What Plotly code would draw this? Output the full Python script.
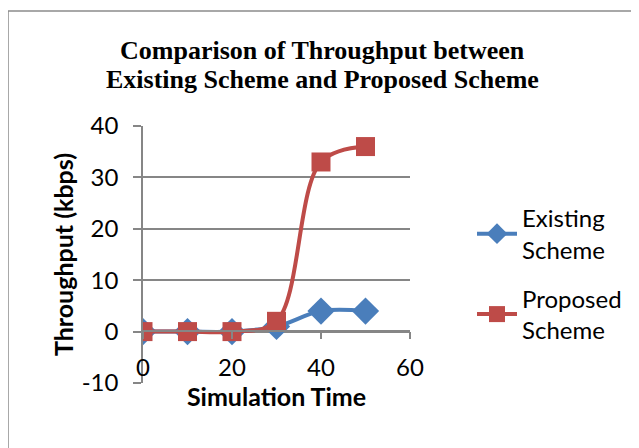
import plotly.graph_objects as go

sim_time = [0, 10, 20, 30, 40, 50]
existing = [0, 0, 0, 1, 4, 4]
proposed = [0, 0, 0, 2, 33, 36]
x_ticks = [0, 20, 40, 60]
y_ticks = [-10, 0, 10, 20, 30, 40]
title_lines = ["Comparison of Throughput between", "Existing Scheme and Proposed Scheme"]

W, H = 639, 448
OFF = 8  # page body margin in the browser
L, R, T, B = 143, 410, 126, 383  # target plot area in screen pixels

def px_to_paper(px, py):
    return (px - L) / (R - L), (B - py) / (B - T)

fig = go.Figure()
fig.add_trace(go.Scatter(
    x=sim_time, y=existing, name="Existing<br>Scheme", mode="lines+markers", legendgroup="existing",
    line=dict(color="#4A7EBB", width=4, shape="spline", smoothing=1),
    marker=dict(symbol="diamond", size=21, color="#4A7EBB"),
))
fig.add_trace(go.Scatter(
    x=sim_time, y=proposed, name="Proposed<br>Scheme", mode="lines+markers", legendgroup="proposed",
    line=dict(color="#BE4B48", width=4, shape="spline", smoothing=1),
    marker=dict(symbol="square", size=19, color="#BE4B48"),
))

bx0, by0 = px_to_paper(8, 11)
bx1, by1 = px_to_paper(680, 480)
fig.add_shape(type="rect", xref="paper", yref="paper", x0=bx0, y0=by1, x1=bx1, y1=by0,
              line=dict(color="#8C8C8C", width=1.5), layer="below")

for line_text, cy in zip(title_lines, [51, 79]):
    ax, ay = px_to_paper(322, cy)
    fig.add_annotation(text="<b>" + line_text + "</b>", xref="paper", yref="paper", x=ax, y=ay,
                       xanchor="center", yanchor="middle", showarrow=False,
                       font=dict(family="Liberation Serif", size=26, color="black"))

sans = "Lato"
fs = 24
fig.update_layout(
    width=W, height=H,
    margin=dict(l=L - OFF, r=W - (R - OFF), t=T - OFF, b=H - (B - OFF)),
    paper_bgcolor="white", plot_bgcolor="white",
    showlegend=True,
    legend=dict(x=px_to_paper(472, 0)[0], y=px_to_paper(0, 196)[1], xanchor="left", yanchor="top",
                font=dict(family=sans, size=fs, color="black"), bgcolor="rgba(0,0,0,0)",
                tracegroupgap=15, itemwidth=40),
    xaxis=dict(range=[0, 60], tickvals=x_ticks, anchor="free", position=(B - 331) / (B - T),
               automargin=False,
               showgrid=False, zeroline=False, showline=True, linecolor="#868686", linewidth=1.5,
               ticks="outside", ticklen=7, tickcolor="#868686", tickwidth=1.5,
               tickfont=dict(family=sans, size=fs, color="black"), ticklabelstandoff=8,
               title=dict(text="<b>Simulation Time</b>", font=dict(family=sans, size=25, color="black"),
                          standoff=0)),
    yaxis=dict(range=[-10, 40], tickvals=y_ticks, ticktext=[str(v) for v in y_ticks],
               showgrid=True, gridcolor="#868686", gridwidth=1.5,
               automargin=False,
               zeroline=False, showline=True, linecolor="#868686", linewidth=1.5,
               ticks="outside", ticklen=8, tickcolor="#868686", tickwidth=1.5,
               tickfont=dict(family=sans, size=fs, color="black"), ticklabelstandoff=10,
               title=dict(text="<b>Throughput (kbps)</b>", font=dict(family=sans, size=25, color="black"),
                          standoff=1)),
)
fig.write_html("out.html")
